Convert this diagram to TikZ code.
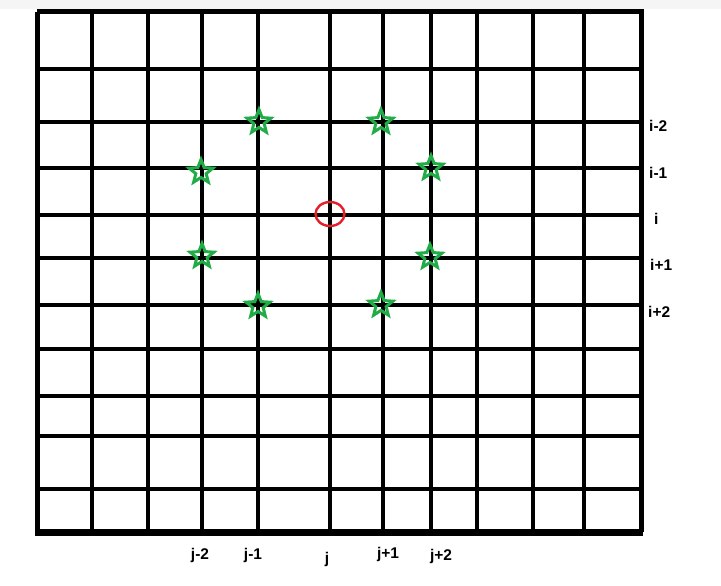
\documentclass[tikz,border=0pt]{standalone}
\usepackage{fontspec}
\setmainfont{Liberation Sans}
\usetikzlibrary{shapes.geometric}
\definecolor{stargreen}{RGB}{34,172,72}
\definecolor{markred}{RGB}{230,30,40}
\tikzset{
  gridline/.style={line width=4pt, black},
  border/.style={line width=5pt, black},
  mystar/.style={star, star points=5, star point ratio=2.3, draw=stargreen, line width=3pt, minimum size=25pt, inner sep=0pt},
  lbl/.style={font=\fontsize{15.5}{17}\selectfont\bfseries, inner sep=0pt}
}
\begin{document}
\begin{tikzpicture}[x=1pt,y=-1pt]
\useasboundingbox (0,0) rectangle (721,586);
\fill[black!4] (0,0) rectangle (721,9);
% vertical grid lines
\foreach \x in {92,148,202,258,330,383,431,477,533,584}
  \draw[gridline] (\x,12) -- (\x,532);
% horizontal grid lines
\foreach \y in {69,122,168,215,258,305,349,396,436,489}
  \draw[gridline] (37,\y) -- (641,\y);
% border
\draw[border] (37,12) -- (641,12) -- (641,532);
\draw[border] (37,12) -- (37,532);
\draw[line width=7pt] (35,532) -- (643,532);
% stars
\node[mystar] (s1) at (259,122) {};
\node[mystar] (s2) at (381,122) {};
\node[mystar] (s3) at (201,172) {};
\node[mystar] (s4) at (431,168) {};
\node[mystar] (s5) at (202,256) {};
\node[mystar] (s6) at (430,257) {};
\node[mystar] (s7) at (258,306) {};
\node[mystar] (s8) at (381,305) {};
% red circle
\node[draw=markred, line width=2.4pt, ellipse, minimum width=29pt, minimum height=24pt, inner sep=0pt] (c) at (330,214) {};
% row labels
\node[lbl, anchor=west] (r1) at (649,126) {i-2};
\node[lbl, anchor=west] (r2) at (649,173) {i-1};
\node[lbl, anchor=west] (r3) at (654,219) {i};
\node[lbl, anchor=west] (r4) at (650,265) {i+1};
\node[lbl, anchor=west] (r5) at (648,312) {i+2};
% column labels
\node[lbl] (c1) at (200,555) {j-2};
\node[lbl] (c2) at (253,555) {j-1};
\node[lbl] (c3) at (327,559) {j};
\node[lbl] (c4) at (388,554) {j+1};
\node[lbl] (c5) at (441,556) {j+2};
\end{tikzpicture}
\end{document}
